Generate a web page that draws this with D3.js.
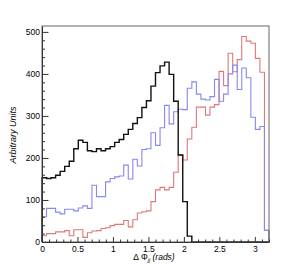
<!DOCTYPE html>
<html><head><meta charset="utf-8">
<script src="https://cdn.jsdelivr.net/npm/d3@7"></script>
<style>
body{margin:0;background:#fff}
svg{display:block}
text{font-family:"Liberation Sans",Arial,Helvetica,sans-serif}
</style>
</head><body>
<svg id="chart" width="284" height="270"></svg>
<script>
// ---- data ----
const xRange = [0, 3.2];
const nBins = 50;
const yMax = 514;
const blackValues = [153,151,153,159,168,180,192,222,242,237,217,215,222,217,222,227,237,244,256,268,282,296,320,336,371,
                     403,419,428,399,335,207,96,14,0,0,0,0,0,0,0,0,0,0,0,0,0,0,0,0,0];
const blueValues  = [60,80,80,71,67,78,78,74,81,86,80,135,108,108,143,151,155,157,183,150,197,181,220,222,260,
                     230,272,325,281,310,316,315,366,381,352,340,338,346,387,335,352,400,421,363,414,391,297,268,275,28];
const redValues   = [15,20,20,24,24,27,15,29,29,11,22,26,27,32,34,39,42,42,51,36,53,69,72,74,96,
                     124,130,124,130,166,207,195,245,273,321,321,302,321,327,406,372,449,405,434,489,478,473,437,404,28];
const xTickLabels = ["0","0.5","1","1.5","2","2.5","3"];
const xTickValues = [0,0.5,1,1.5,2,2.5,3];
const yTickValues = [0,100,200,300,400,500];
const yTitle = "Arbitrary Units";

// ---- layout ----
const L = 42, R = 269, T = 26, B = 242;
const svg = d3.select("#chart");
const x = d3.scaleLinear().domain(xRange).range([L, R]);
const y = d3.scaleLinear().domain([0, yMax]).range([B, T]);
const bw = (xRange[1] - xRange[0]) / nBins;

function stepPoints(vals){
  const pts = [[xRange[0], 0]];
  vals.forEach((v,i)=>pts.push([xRange[0] + i*bw, v]));
  pts.push([xRange[1], vals[vals.length-1]]);
  pts.push([xRange[1], 0]);
  return pts;
}
const line = d3.line().x(d=>x(d[0])).y(d=>y(d[1])).curve(d3.curveStepAfter);

const series = [
  {vals: redValues, color: "#e07777", w: 1.1},
  {vals: blueValues, color: "#8787f2", w: 1.1},
  {vals: blackValues, color: "#111", w: 1.4}
];
series.forEach(s=>{
  svg.append("path").attr("d", line(stepPoints(s.vals)))
    .attr("fill","none").attr("stroke", s.color).attr("stroke-width", s.w);
});

// frame
svg.append("rect").attr("x",L).attr("y",T).attr("width",R-L).attr("height",B-T)
  .attr("fill","none").attr("stroke","#666").attr("stroke-width",1);

// y axis
const yMinor = d3.range(0, yMax+0.1, 20).filter(v=>v%100!==0);
svg.append("g").attr("transform",`translate(${L},0)`).style("color","#333")
  .call(d3.axisLeft(y).tickValues(yMinor).tickSize(-3).tickSizeOuter(0).tickFormat(""))
  .call(g=>g.select(".domain").remove());
svg.append("g").attr("transform",`translate(${L},0)`).style("color","#333")
  .call(d3.axisLeft(y).tickValues(yTickValues).tickSize(-6.5).tickSizeOuter(0).tickPadding(2))
  .call(g=>g.selectAll("text").attr("font-size","8.5px").attr("fill","#000")
            .style("font-family",'"Liberation Sans",Arial,sans-serif'))
  .call(g=>g.select(".domain").attr("stroke","#333"));

// x axis
const xMinor = d3.range(0, 3.21, 0.1).map(v=>+v.toFixed(2)).filter(v=>Math.abs(v*2-Math.round(v*2))>1e-6);
svg.append("g").attr("transform",`translate(0,${B})`).style("color","#333")
  .call(d3.axisBottom(x).tickValues(xMinor).tickSize(-2.5).tickSizeOuter(0).tickFormat(""))
  .call(g=>g.select(".domain").remove());
svg.append("g").attr("transform",`translate(0,${B})`).style("color","#333")
  .call(d3.axisBottom(x).tickValues(xTickValues).tickSize(-5).tickSizeOuter(0).tickPadding(4)
        .tickFormat((d,i)=>xTickLabels[i]))
  .call(g=>g.selectAll("text").attr("font-size","8.5px").attr("fill","#000")
            .style("font-family",'"Liberation Sans",Arial,sans-serif'))
  .call(g=>g.select(".domain").attr("stroke","#333"));

// titles
svg.append("text").attr("transform","translate(16,135) rotate(-90)")
  .attr("text-anchor","middle").attr("font-size","9px").attr("font-style","italic")
  .attr("fill","#000").text(yTitle);

const xt = svg.append("text").attr("x",154).attr("y",260).attr("text-anchor","middle")
  .attr("font-size","8.5px").attr("fill","#000");
xt.append("tspan").text("Δ Φ");
xt.append("tspan").attr("font-size","5.5px").attr("font-style","italic").attr("dy",2).text("jj");
xt.append("tspan").attr("font-style","italic").attr("dy",-2).text(" (rads)");
</script>
</body></html>
